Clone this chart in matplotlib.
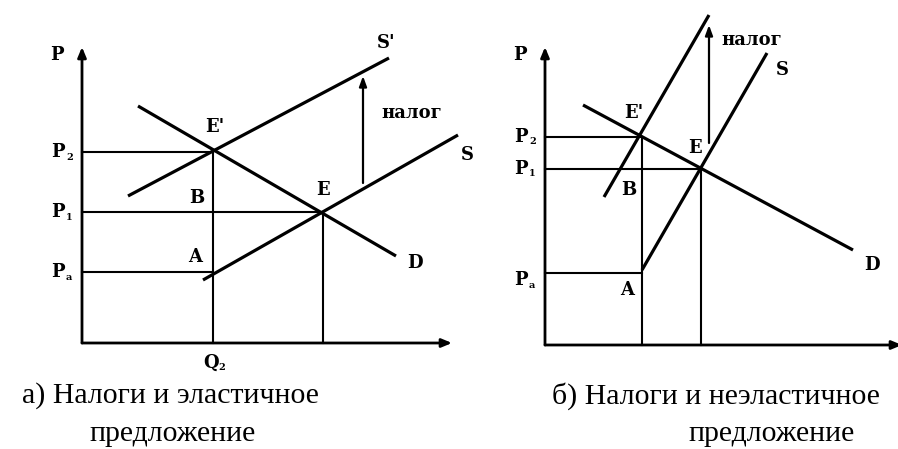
import matplotlib
matplotlib.use("Agg")
import matplotlib.pyplot as plt

# ---- data (pixel-space diagram coordinates: x right, y down) ----
# left panel: elastic supply
L_axis_origin = (82, 343)
L_axis_ytop = 47
L_axis_xend = 452
L_S = [(203, 280), (458, 135)]
L_S2 = [(128, 196), (389, 58)]
L_D = [(138, 106), (396, 256)]
L_E2 = (213, 152)
L_E = (323, 212)
L_A = (213, 272)
L_tax = [(363, 183), (363, 76)]
L_labels = [("S'", 386, 43), ("налог", 412, 113), ("S", 467, 155), ("E'", 215, 127),
            ("B", 197, 198), ("E", 323, 190), ("A", 195, 257), ("D", 415, 263),
            ("P", 57, 55)]
L_plabels = [("2", 152), ("1", 212), ("a", 272)]
L_q = ("Q", "2", 211, 363)
L_caption = [("а) Налоги и эластичное", 170, 396), ("предложение", 173, 434)]

# right panel: inelastic supply
R_axis_origin = (545, 345)
R_axis_ytop = 47
R_axis_xend = 902
R_S = [(642, 270), (767, 53)]
R_S2 = [(604, 197), (709, 15)]
R_D = [(583, 105), (853, 250)]
R_E2 = (642, 137)
R_E = (701, 169)
R_A = (642, 273)
R_tax = [(709, 143), (709, 25)]
R_labels = [("налог", 752, 40), ("S", 782, 70), ("E'", 634, 113), ("E", 695, 148),
            ("B", 629, 190), ("A", 627, 290), ("D", 872, 265), ("P", 520, 55)]
R_plabels = [("2", 137), ("1", 169), ("a", 280)]
R_caption = [("б) Налоги и неэластичное", 552, 396), ("предложение", 772, 434)]

fig = plt.figure(figsize=(8.98, 4.49), dpi=100)
ax = fig.add_axes([0, 0, 1, 1])
ax.set_xlim(0, 898)
ax.set_ylim(449, 0)
ax.axis("off")

LBL = dict(family=["DejaVu Serif"], fontweight="bold", fontsize=13, color="black")
SUB = dict(family=["DejaVu Serif"], fontweight="bold", fontsize=7, color="black")
CAP = dict(family=["Liberation Serif", "DejaVu Serif"], fontsize=21.5, color="black")
CURVE = dict(color="black", lw=2.3, solid_capstyle="butt")
GUIDE = dict(color="black", lw=1.5)


def arrow(p0, p1, lw=1.8, hl=14, hw=5):
    ax.annotate("", xy=p1, xytext=p0, annotation_clip=False,
                arrowprops=dict(arrowstyle=f"-|>,head_length={hl/10},head_width={hw/10}",
                                color="black", lw=lw, shrinkA=0, shrinkB=0))


def panel(origin, ytop, xend, S, S2, D, E2, E, A, tax, labels, plabels, px_label):
    ox, oy = origin
    arrow((ox, oy), (ox, ytop), lw=2.0, hl=6, hw=2.5)
    arrow((ox, oy), (xend, oy), lw=2.0, hl=6, hw=2.5)
    for seg in (S, S2, D):
        ax.plot([seg[0][0], seg[1][0]], [seg[0][1], seg[1][1]], **CURVE)
    # guide lines
    ax.plot([ox, E2[0]], [E2[1], E2[1]], **GUIDE)
    ax.plot([ox, E[0]], [E[1], E[1]], **GUIDE)
    ax.plot([ox, A[0]], [A[1], A[1]], **GUIDE)
    ax.plot([E2[0], E2[0]], [E2[1], oy], **GUIDE)
    ax.plot([E[0], E[0]], [E[1], oy], **GUIDE)
    arrow(tax[0], tax[1], lw=1.6, hl=6, hw=2.2)
    for t, x, y in labels:
        ax.text(x, y, t, ha="center", va="center", **LBL)
    for sub, y in plabels:
        ax.text(px_label, y, "P", ha="center", va="center", **LBL)
        ax.text(px_label + 8, y + 5, sub, ha="left", va="center", **SUB)


panel(L_axis_origin, L_axis_ytop, L_axis_xend, L_S, L_S2, L_D, L_E2, L_E, L_A, L_tax,
      L_labels, L_plabels, 58)
panel(R_axis_origin, R_axis_ytop, R_axis_xend, R_S, R_S2, R_D, R_E2, R_E, R_A, R_tax,
      R_labels, R_plabels, 521)

q, qs, qx, qy = L_q
ax.text(qx, qy, q, ha="center", va="center", **LBL)
ax.text(qx + 7, qy + 5, qs, ha="left", va="center", **SUB)

ax.text(*L_caption[0][1:], L_caption[0][0], ha="center", va="center", **CAP)
ax.text(*L_caption[1][1:], L_caption[1][0], ha="center", va="center", **CAP)
ax.text(*R_caption[0][1:], R_caption[0][0], ha="left", va="center", **CAP)
ax.text(*R_caption[1][1:], R_caption[1][0], ha="center", va="center", **CAP)

fig.savefig("out.png", dpi=100, facecolor="white")
